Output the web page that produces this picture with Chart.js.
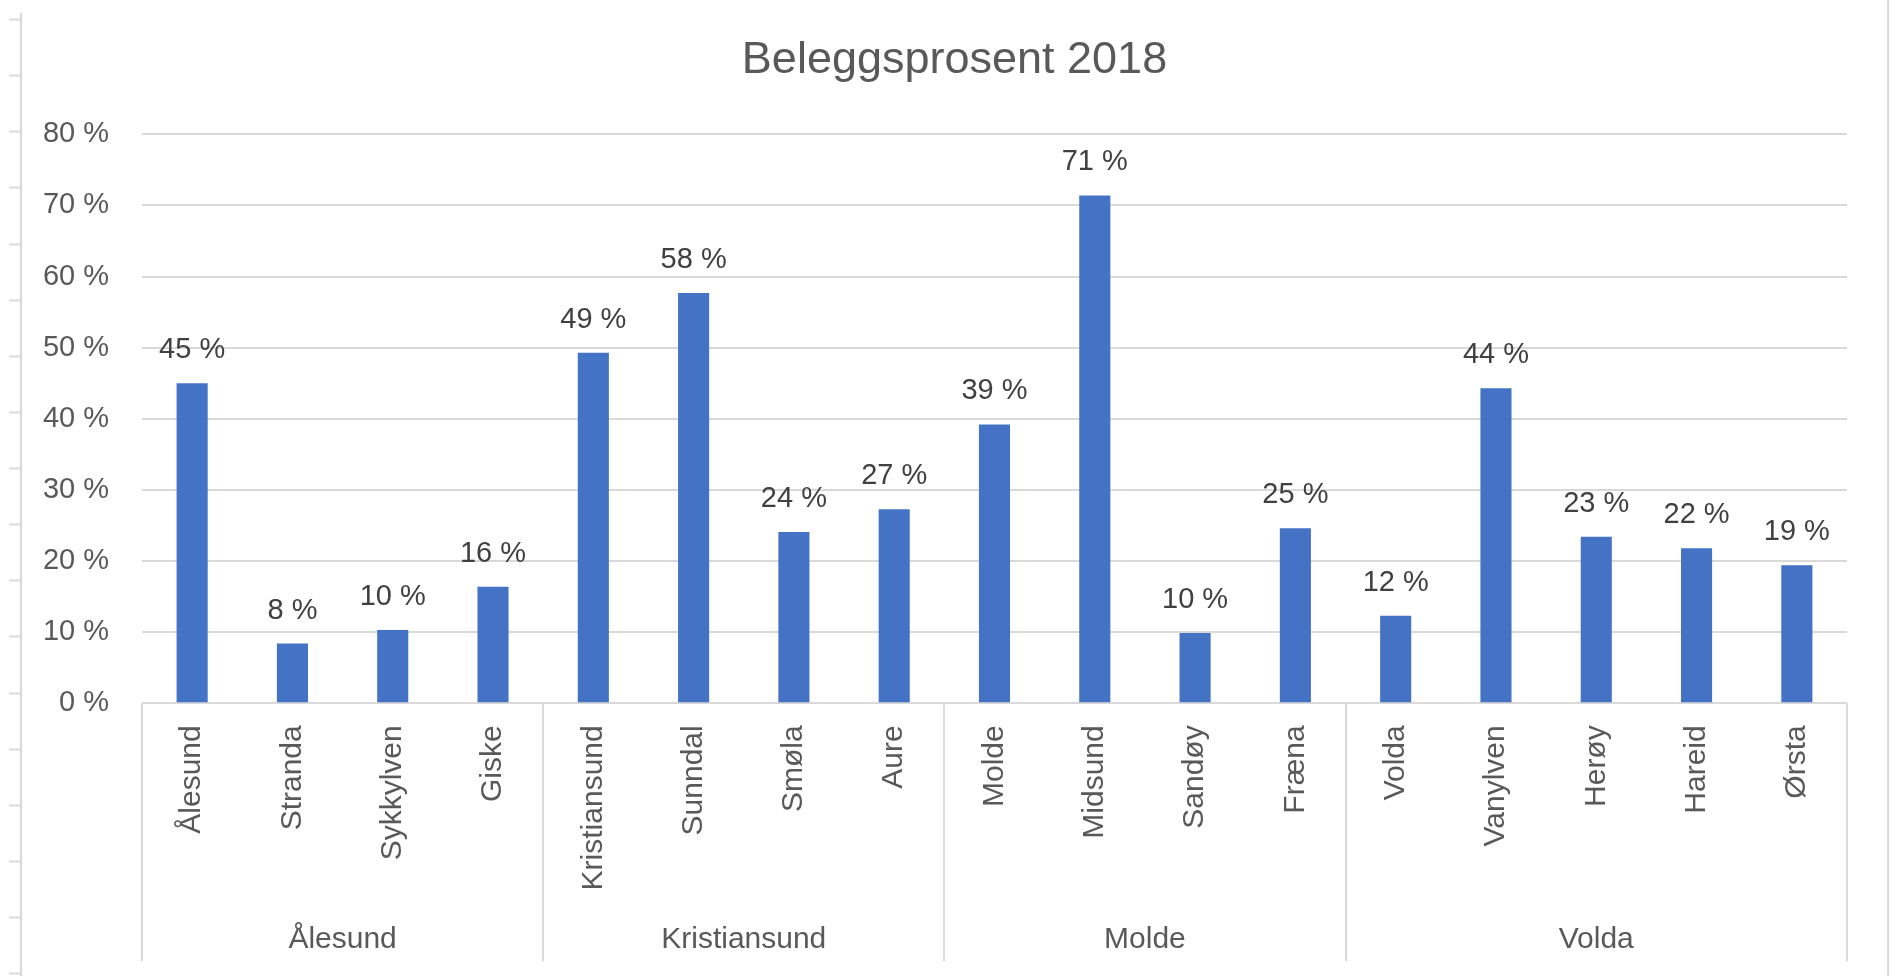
<!DOCTYPE html>
<html>
<head>
<meta charset="utf-8">
<script src="https://cdn.jsdelivr.net/npm/chart.js@4"></script>
<style>
  html, body { margin: 0; padding: 0; background: #ffffff; }
  #wrap { width: 1891px; height: 976px; position: relative; }
</style>
</head>
<body>
<div id="wrap"><canvas id="c" width="1891" height="976"></canvas></div>
<script>
// ---- Data ----
const titleText = 'Beleggsprosent 2018';
const categories = ['Ålesund', 'Stranda', 'Sykkylven', 'Giske',
                    'Kristiansund', 'Sunndal', 'Smøla', 'Aure',
                    'Molde', 'Midsund', 'Sandøy', 'Fræna',
                    'Volda', 'Vanylven', 'Herøy', 'Hareid', 'Ørsta'];
const values = [45.0, 8.4, 10.3, 16.4,
                49.3, 57.7, 24.1, 27.3,
                39.2, 71.4, 9.9, 24.6,
                12.3, 44.3, 23.4, 21.8, 19.4];
const groups = ['Ålesund', 'Kristiansund', 'Molde', 'Volda'];
const groupSizes = [4, 4, 4, 5];
const yMin = 0, yMax = 80, yStep = 10;

// ---- Styles ----
const FONT = "'Liberation Sans', Arial, sans-serif";
const TEXT = '#595959';
const LINE = '#d9d9d9';
const BAR = '#4472C4';
const FRAME_LEFT = 21, FRAME_RIGHT = 1888;

const sheetDecor = {
  id: 'sheetDecor',
  beforeDraw(chart) {
    const ctx = chart.ctx;
    ctx.save();
    ctx.fillStyle = '#ffffff';
    ctx.fillRect(0, 0, chart.width, chart.height);
    ctx.strokeStyle = LINE;
    ctx.lineWidth = 2;
    ctx.beginPath();
    ctx.moveTo(FRAME_LEFT, 13); ctx.lineTo(FRAME_LEFT, chart.height);
    for (let y = 19; y < chart.height; y += 56.13) {
      ctx.moveTo(9, Math.round(y) + 0.5); ctx.lineTo(FRAME_LEFT, Math.round(y) + 0.5);
    }
    ctx.moveTo(FRAME_RIGHT, 0); ctx.lineTo(FRAME_RIGHT, chart.height);
    ctx.stroke();
    ctx.restore();
  }
};

const chartTitle = {
  id: 'chartTitle',
  afterDraw(chart) {
    const ctx = chart.ctx;
    ctx.save();
    ctx.fillStyle = TEXT;
    ctx.font = '45px ' + FONT;
    ctx.textAlign = 'center';
    ctx.textBaseline = 'alphabetic';
    ctx.fillText(titleText, (FRAME_LEFT + FRAME_RIGHT) / 2, chart.chartArea.top - 61);
    ctx.restore();
  }
};

const groupAxis = {
  id: 'groupAxis',
  afterDraw(chart) {
    const x = chart.scales.x;
    const ctx = chart.ctx;
    ctx.save();
    ctx.strokeStyle = LINE;
    ctx.lineWidth = 2;
    let start = 0;
    const bounds = [0];
    groupSizes.forEach(s => { start += s; bounds.push(start); });
    ctx.beginPath();
    bounds.forEach(b => {
      const px = Math.round(x.getPixelForValue(b - 0.5));
      ctx.moveTo(px, x.top);
      ctx.lineTo(px, x.top + 258);
    });
    ctx.stroke();
    ctx.fillStyle = TEXT;
    ctx.font = '30px ' + FONT;
    ctx.textAlign = 'center';
    ctx.textBaseline = 'alphabetic';
    groups.forEach((g, i) => {
      const a = x.getPixelForValue(bounds[i] - 0.5);
      const b = x.getPixelForValue(bounds[i + 1] - 0.5);
      ctx.fillText(g, (a + b) / 2, x.top + 245);
    });
    ctx.restore();
  }
};

const dataLabels = {
  id: 'dataLabels',
  afterDatasetsDraw(chart) {
    const ctx = chart.ctx;
    const meta = chart.getDatasetMeta(0);
    ctx.save();
    ctx.fillStyle = '#404040';
    ctx.font = '29px ' + FONT;
    ctx.textAlign = 'center';
    ctx.textBaseline = 'alphabetic';
    meta.data.forEach((bar, i) => {
      ctx.fillText(Math.round(values[i]) + ' %', bar.x, bar.y - 25);
    });
    ctx.restore();
  }
};

new Chart(document.getElementById('c'), {
  type: 'bar',
  data: {
    labels: categories,
    datasets: [{
      data: values,
      backgroundColor: BAR,
      borderWidth: 0,
      categoryPercentage: 1.0,
      barPercentage: 0.31
    }]
  },
  plugins: [sheetDecor, groupAxis, dataLabels, chartTitle],
  options: {
    responsive: false,
    animation: false,
    devicePixelRatio: 1,
    layout: { padding: { left: 21, right: 44, top: 134.3, bottom: 0 } },
    plugins: {
      legend: { display: false },
      tooltip: { enabled: false },
      title: { display: false }
    },
    scales: {
      y: {
        min: yMin,
        max: yMax,
        ticks: {
          stepSize: yStep,
          color: TEXT,
          padding: 33,
          font: { family: FONT, size: 29 },
          callback: v => v + ' %'
        },
        grid: { color: LINE, lineWidth: 2, drawTicks: false },
        border: { display: false },
        afterFit(scale) { scale.width = 121; }
      },
      x: {
        ticks: {
          color: TEXT,
          autoSkip: false,
          maxRotation: 90,
          minRotation: 90,
          padding: 22,
          font: { family: FONT, size: 30 }
        },
        grid: { display: false, drawTicks: false },
        border: { display: false },
        afterFit(scale) { scale.height = 272.7; }
      }
    }
  }
});
</script>
</body>
</html>
